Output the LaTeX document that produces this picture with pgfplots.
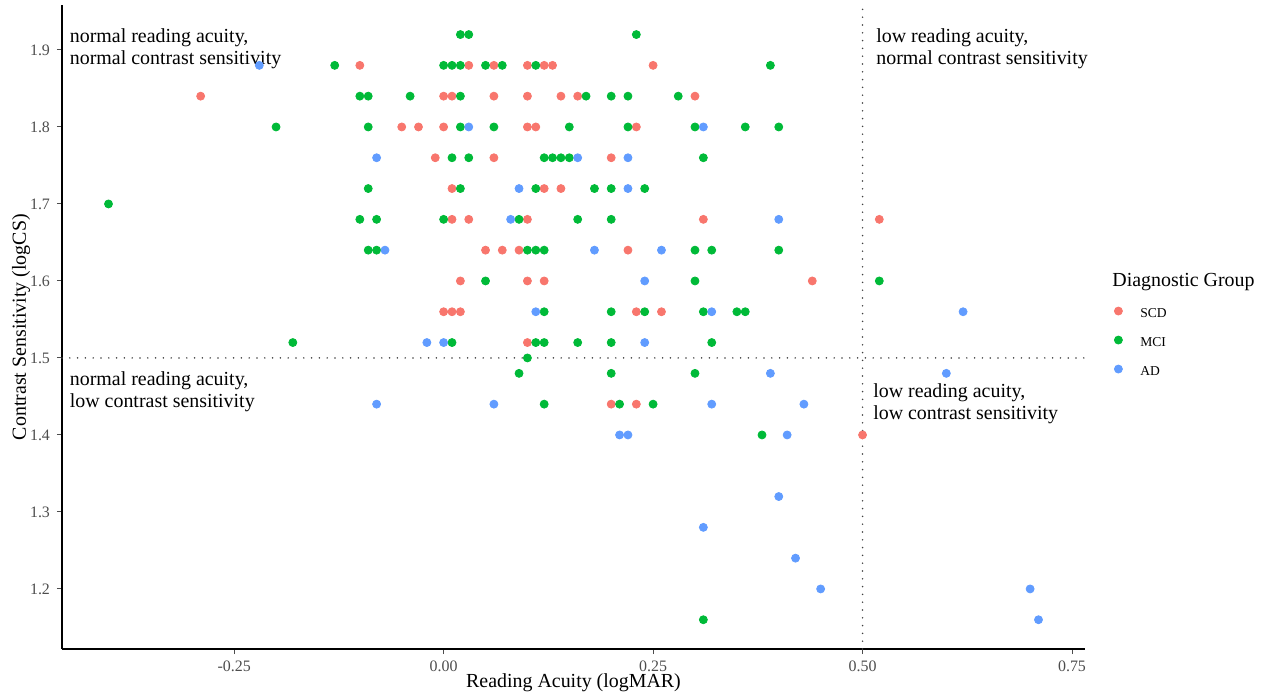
\documentclass[border=0pt]{standalone}
\usepackage{fontspec}
\setmainfont{Liberation Serif}
\usepackage{pgfplots}
\pgfplotsset{compat=1.18}
\definecolor{scd}{HTML}{F8766D}
\definecolor{mci}{HTML}{00BA38}
\definecolor{ad}{HTML}{619CFF}
\definecolor{tickgray}{HTML}{4D4D4D}
\begin{document}
\begin{tikzpicture}
\begin{axis}[
  scale only axis, width=511.5bp, height=321.85bp,
  xmin=-0.4555, xmax=0.7655, ymin=1.122, ymax=1.958,
  axis x line*=bottom, axis y line*=left,
  axis line style={-, line width=0.6bp, black},
  xtick={-0.25,0,0.25,0.5,0.75},
  xticklabels={-0.25,0.00,0.25,0.50,0.75},
  ytick={1.2,1.3,1.4,1.5,1.6,1.7,1.8,1.9},
  yticklabels={1.2,1.3,1.4,1.5,1.6,1.7,1.8,1.9},
  tick align=outside, major tick length=2.5bp,
  tick style={line width=0.5bp, tickgray},
  ticklabel style={font=\fontsize{8}{9.6}\selectfont, text=tickgray},
  xlabel={Reading Acuity (logMAR)}, ylabel={Contrast Sensitivity (logCS)},
  label style={font=\fontsize{10}{12}\selectfont},
  xlabel style={at={(axis description cs:0.5,-0.0528)}, anchor=center},
  ylabel style={at={(axis description cs:-0.0400,0.5)}, anchor=center},
  clip=false,
  legend style={at={(1.0225,0.5472)}, anchor=north west, draw=none, fill=none,
    font=\fontsize{6.8}{8}\selectfont,
    nodes={inner sep=0pt, text height=8bp, text depth=6.5bp},
    /tikz/every odd column/.append style={column sep=9bp}},
  legend cell align=left,
  legend image code/.code={\draw[#1] plot coordinates {(2bp,2.3bp)};},
]
% SCD
\addplot[only marks, mark=*, mark size=2bp, color=scd, mark options={draw=none, fill=scd}] table[row sep=\\] {
x y\\
-0.10 1.88\\ 0.03 1.88\\ 0.06 1.88\\ 0.10 1.88\\ 0.12 1.88\\ 0.13 1.88\\ 0.25 1.88\\
-0.29 1.84\\ 0.00 1.84\\ 0.01 1.84\\ 0.06 1.84\\ 0.10 1.84\\ 0.14 1.84\\ 0.16 1.84\\ 0.30 1.84\\
-0.05 1.80\\ -0.03 1.80\\ 0.00 1.80\\ 0.10 1.80\\ 0.11 1.80\\ 0.23 1.80\\
-0.01 1.76\\ 0.06 1.76\\ 0.20 1.76\\
0.01 1.72\\ 0.12 1.72\\ 0.14 1.72\\
0.01 1.68\\ 0.03 1.68\\ 0.10 1.68\\ 0.31 1.68\\ 0.52 1.68\\
0.05 1.64\\ 0.07 1.64\\ 0.09 1.64\\ 0.22 1.64\\
0.02 1.60\\ 0.10 1.60\\ 0.12 1.60\\ 0.44 1.60\\
0.00 1.56\\ 0.01 1.56\\ 0.02 1.56\\ 0.23 1.56\\ 0.26 1.56\\
0.10 1.52\\
0.20 1.44\\ 0.23 1.44\\
0.50 1.40\\
};
\addlegendentry{SCD}
% MCI
\addplot[only marks, mark=*, mark size=2bp, color=mci, mark options={draw=none, fill=mci}] table[row sep=\\] {
x y\\
0.02 1.92\\ 0.03 1.92\\ 0.23 1.92\\
-0.13 1.88\\ 0.00 1.88\\ 0.01 1.88\\ 0.02 1.88\\ 0.05 1.88\\ 0.07 1.88\\ 0.11 1.88\\ 0.39 1.88\\
-0.10 1.84\\ -0.09 1.84\\ -0.04 1.84\\ 0.02 1.84\\ 0.17 1.84\\ 0.20 1.84\\ 0.22 1.84\\ 0.28 1.84\\
-0.20 1.80\\ -0.09 1.80\\ 0.02 1.80\\ 0.06 1.80\\ 0.15 1.80\\ 0.22 1.80\\ 0.30 1.80\\ 0.36 1.80\\ 0.40 1.80\\
0.01 1.76\\ 0.03 1.76\\ 0.12 1.76\\ 0.13 1.76\\ 0.14 1.76\\ 0.15 1.76\\ 0.31 1.76\\
-0.09 1.72\\ 0.02 1.72\\ 0.11 1.72\\ 0.18 1.72\\ 0.20 1.72\\ 0.24 1.72\\
-0.40 1.70\\
-0.10 1.68\\ -0.08 1.68\\ 0.00 1.68\\ 0.09 1.68\\ 0.16 1.68\\ 0.20 1.68\\
-0.09 1.64\\ -0.08 1.64\\ 0.10 1.64\\ 0.11 1.64\\ 0.12 1.64\\ 0.30 1.64\\ 0.32 1.64\\ 0.40 1.64\\
0.05 1.60\\ 0.30 1.60\\ 0.52 1.60\\
0.12 1.56\\ 0.20 1.56\\ 0.24 1.56\\ 0.31 1.56\\ 0.35 1.56\\ 0.36 1.56\\
-0.18 1.52\\ 0.01 1.52\\ 0.11 1.52\\ 0.12 1.52\\ 0.16 1.52\\ 0.20 1.52\\ 0.32 1.52\\
0.10 1.50\\
0.09 1.48\\ 0.20 1.48\\ 0.30 1.48\\
0.12 1.44\\ 0.21 1.44\\ 0.25 1.44\\
0.38 1.40\\
0.31 1.16\\
};
\addlegendentry{MCI}
% AD
\addplot[only marks, mark=*, mark size=2bp, color=ad, mark options={draw=none, fill=ad}] table[row sep=\\] {
x y\\
-0.22 1.88\\
0.03 1.80\\ 0.31 1.80\\
-0.08 1.76\\ 0.16 1.76\\ 0.22 1.76\\
0.09 1.72\\ 0.22 1.72\\
0.08 1.68\\ 0.40 1.68\\
-0.07 1.64\\ 0.18 1.64\\ 0.26 1.64\\
0.24 1.60\\
0.11 1.56\\ 0.32 1.56\\ 0.62 1.56\\
-0.02 1.52\\ 0.00 1.52\\ 0.24 1.52\\
0.39 1.48\\ 0.60 1.48\\
-0.08 1.44\\ 0.06 1.44\\ 0.32 1.44\\ 0.43 1.44\\
0.21 1.40\\ 0.22 1.40\\ 0.41 1.40\\
0.40 1.32\\
0.31 1.28\\
0.42 1.24\\
0.45 1.20\\ 0.70 1.20\\
0.71 1.16\\
};
\addlegendentry{AD}
% reference lines
\draw[black!75, line width=0.85bp, line cap=round, dash pattern=on 0bp off 3.9bp] (axis cs:-0.4555,1.5) -- (axis cs:0.7655,1.5);
\draw[black!75, line width=0.85bp, line cap=round, dash pattern=on 0bp off 3.9bp] (axis cs:0.5,1.122) -- (axis cs:0.5,1.958);
% annotations
\begin{scope}[every node/.style={anchor=base west, inner sep=0pt, font=\fontsize{10}{12}\selectfont}]
\node at (axis cs:-0.4466,1.9091) {normal reading acuity,};
\node at (axis cs:-0.4466,1.8805) {normal contrast sensitivity};
\node at (axis cs:0.5160,1.9091) {low reading acuity,};
\node at (axis cs:0.5160,1.8805) {normal contrast sensitivity};
\node at (axis cs:-0.4466,1.4636) {normal reading acuity,};
\node at (axis cs:-0.4466,1.4351) {low contrast sensitivity};
\node at (axis cs:0.5123,1.4480) {low reading acuity,};
\node at (axis cs:0.5123,1.4195) {low contrast sensitivity};
\node at (axis description cs:1.0264,0.5624) {Diagnostic Group};
\end{scope}
\end{axis}
\pgfresetboundingbox
\path[use as bounding box] (current axis.south west) ++(-31bp,-24.5bp) rectangle ++(632bp,349bp);
\end{tikzpicture}
\end{document}
